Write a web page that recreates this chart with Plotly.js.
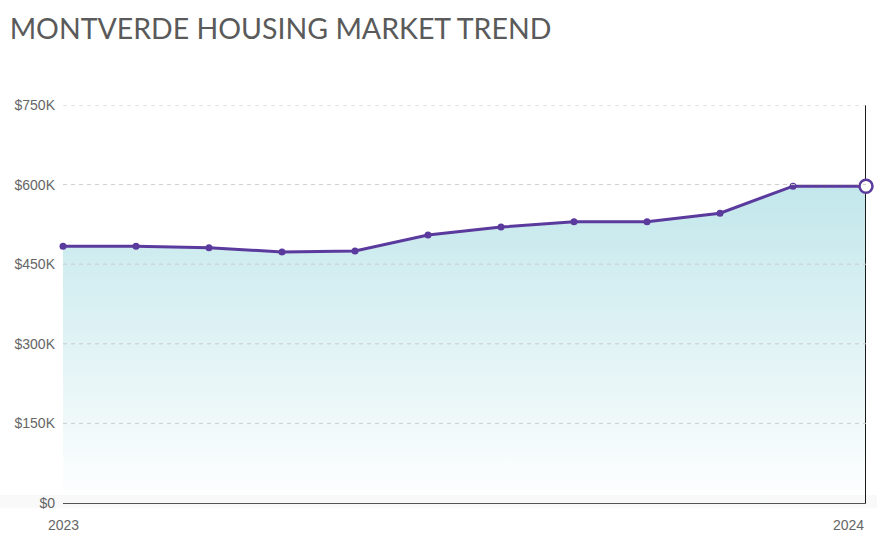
<!DOCTYPE html>
<html>
<head>
<meta charset="utf-8">
<script src="https://cdn.plot.ly/plotly-3.0.1.min.js"></script>
<style>
  html, body { margin: 0; padding: 0; background: #fff; }
  #chart { width: 877px; height: 533px; }
</style>
</head>
<body>
<div id="chart"></div>
<script>
// points du graphe (un par mois)
let months = ['2023-02', '2023-03', '2023-04', '2023-05', '2023-06', '2023-07',
              '2023-08', '2023-09', '2023-10', '2023-11', '2023-12', '2024-01'];
let prices = [484000, 484000, 481000, 473000, 475000, 505000,
              520000, 530000, 530000, 546000, 597000, 597000];

let yTicks = [0, 150000, 300000, 450000, 600000, 750000];
let yTickText = ['$0', '$150K', '$300K', '$450K', '$600K', '$750K'];
let xLabels = ['2023', '2024'];

let last = months.length - 1;
let purple = '#5b3a9e';
let labelFont = { family: '"Liberation Sans", Arial, sans-serif', size: 14, color: '#666666' };

let data = [
    // courbe + aire en dégradé
    {
        x: months,
        y: prices,
        type: 'scatter',
        mode: 'lines+markers',
        fill: 'tozeroy',
        fillgradient: {
            type: 'vertical',
            colorscale: [[0, 'rgba(255,255,255,1)'], [1, 'rgba(194,231,235,1)']]
        },
        line: { color: purple, width: 3 },
        marker: { size: 7, color: purple, opacity: 1 },
        hoverinfo: 'skip',
        cliponaxis: false
    },
    // ligne verticale (curseur) sur le dernier mois
    {
        x: [months[last], months[last]],
        y: [yTicks[0], yTicks[yTicks.length - 1]],
        type: 'scatter',
        mode: 'lines',
        line: { color: '#1a1a1a', width: 2 },
        hoverinfo: 'skip',
        cliponaxis: false
    },
    // dernier point : rond creux
    {
        x: [months[last]],
        y: [prices[last]],
        type: 'scatter',
        mode: 'markers',
        marker: { size: 13, color: '#ffffff', opacity: 1, line: { color: purple, width: 2.5 } },
        hoverinfo: 'skip',
        cliponaxis: false
    }
];

// lignes de grille pointillées par-dessus l'aire
let shapes = yTicks.slice(1).map(v => ({
    type: 'line', xref: 'paper', yref: 'y',
    x0: 0, x1: 1, y0: v, y1: v,
    line: { color: '#cccccc', width: 1, dash: '4px,4px' },
    layer: 'above'
}));
// légère ombre grise en bas
shapes.push({
    type: 'rect', xref: 'paper', yref: 'paper',
    x0: -0.08, x1: 1.02, y0: 0.02, y1: -0.013,
    fillcolor: 'rgba(0,0,0,0.025)', line: { width: 0 },
    layer: 'above'
});

let layout = {
    width: 877,
    height: 533,
    margin: { l: 63, r: 11, t: 105, b: 30 },
    paper_bgcolor: '#ffffff',
    plot_bgcolor: '#ffffff',
    showlegend: false,
    title: {
        text: 'MONTVERDE HOUSING MARKET TREND',
        x: 0.011, xanchor: 'left', y: 0.945, yanchor: 'middle',
        font: { family: 'Lato, sans-serif', size: 28.5, color: '#5a5a5a' }
    },
    xaxis: {
        type: 'category',
        range: [0, last],
        showgrid: false,
        showticklabels: false,
        zeroline: false,
        showline: false,
        fixedrange: true
    },
    yaxis: {
        range: [0, 750000],
        tickvals: yTicks,
        ticktext: yTickText,
        ticks: '',
        ticklabelstandoff: 7,
        tickfont: labelFont,
        showgrid: false,
        zeroline: true,
        zerolinecolor: '#555555',
        zerolinewidth: 1.5,
        layer: 'above traces',
        fixedrange: true
    },
    shapes: shapes,
    annotations: [
        { text: xLabels[0], x: months[0], xref: 'x', y: -0.055, yref: 'paper',
          xanchor: 'center', yanchor: 'middle', showarrow: false, font: labelFont },
        { text: xLabels[1], x: months[last], xref: 'x', y: -0.055, yref: 'paper',
          xanchor: 'right', yanchor: 'middle', showarrow: false, font: labelFont }
    ]
};

Plotly.newPlot('chart', data, layout, { displayModeBar: false, staticPlot: true });
</script>
</body>
</html>
